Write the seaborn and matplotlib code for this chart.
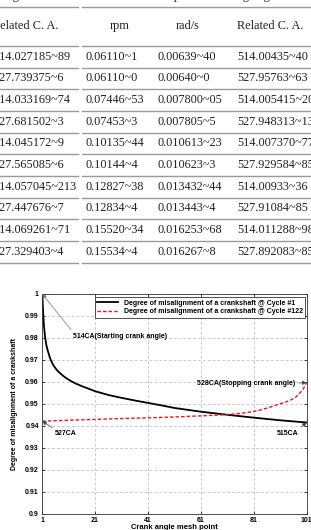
import numpy as np
import pandas as pd
import matplotlib
matplotlib.use("Agg")
import matplotlib.pyplot as plt
from matplotlib.lines import Line2D
import seaborn as sns

# ---- table data (top half) ----
col_heads = ["Related C. A.", "rpm", "rad/s", "Related C. A."]
related_ca_1 = ["514.027185~89", "527.739375~6", "514.033169~74", "527.681502~3",
                "514.045172~9", "527.565085~6", "514.057045~213", "527.447676~7",
                "514.069261~71", "527.329403~4"]
speed_rpm = ["0.06110~1", "0.06110~0", "0.07446~53", "0.07453~3", "0.10135~44",
             "0.10144~4", "0.12827~38", "0.12834~4", "0.15520~34", "0.15534~4"]
speed_rads = ["0.00639~40", "0.00640~0", "0.007800~05", "0.007805~5", "0.010613~23",
              "0.010623~3", "0.013432~44", "0.013443~4", "0.016253~68", "0.016267~8"]
related_ca_2 = ["514.00435~40", "527.95763~63", "514.005415~20", "527.948313~13",
                "514.007370~77", "527.929584~85", "514.00933~36", "527.91084~85",
                "514.011288~98", "527.892083~85"]

# ---- chart data (bottom half) ----
mesh_c1 = [1, 1.3, 1.6, 2, 2.5, 3, 4, 5, 6, 7, 8, 9, 10, 12, 14, 16, 18, 21, 26, 31,
           36, 41, 46, 51, 61, 71, 81, 91, 101]
mis_c1 = [1.000, 0.992, 0.986, 0.981, 0.977, 0.9745, 0.9706, 0.9680, 0.9662, 0.9648,
          0.9637, 0.9627, 0.9618, 0.9603, 0.9591, 0.9581, 0.9572, 0.9558, 0.9541,
          0.9528, 0.9516, 0.9505, 0.9494, 0.9482, 0.9465, 0.9451, 0.9438, 0.9426, 0.9416]
mesh_c122 = [1, 11, 21, 31, 41, 51, 61, 71, 76, 81, 84, 87, 90, 93, 95, 97, 99, 100, 101]
mis_c122 = [0.9422, 0.9426, 0.9430, 0.9434, 0.9437, 0.9441, 0.9446, 0.9452, 0.9457,
            0.9466, 0.9474, 0.9485, 0.9497, 0.9508, 0.9518, 0.9532, 0.9556, 0.9573, 0.9597]

W, H = 311, 530


def fx(px):
    return px / W


def fy(py):
    return 1 - py / H


fig = plt.figure(figsize=(W / 100, H / 100), dpi=100)

# ---- table ----
serif = "Liberation Serif"
tcol = "#222222"
fs = 8.8
# header fragments above the crop (only descenders visible)
fig.text(fx(28), fy(-1.5), "Crank angle", family=serif, size=fs, color=tcol, ha="right", va="baseline")
fig.text(fx(167), fy(-1.5), "Speed at starting angle", family=serif, size=fs, color=tcol, ha="left", va="baseline")

line_ys = [6.7, 46] + [46 + 21.67 * (i + 1) for i in range(10)]
for ly in line_ys:
    for x0, x1 in [(0, 78), (82, W)]:
        fig.add_artist(Line2D([fx(x0), fx(x1)], [fy(ly), fy(ly)], color="#9a9a9a", lw=1.0))

fig.text(fx(-8), fy(26), col_heads[0], family=serif, size=fs, color=tcol, ha="left", va="center")
fig.text(fx(120), fy(26), col_heads[1], family=serif, size=fs, color=tcol, ha="center", va="center")
fig.text(fx(188), fy(26), col_heads[2], family=serif, size=fs, color=tcol, ha="center", va="center")
fig.text(fx(237), fy(26), col_heads[3], family=serif, size=fs, color=tcol, ha="left", va="center")

col_left = [-6.5, 85, 157.5, 237]
for i in range(10):
    ry = 56.8 + 21.67 * i
    for xl, col in zip(col_left, [related_ca_1, speed_rpm, speed_rads, related_ca_2]):
        fig.text(fx(xl), fy(ry), col[i], family=serif, size=fs, color=tcol, ha="left", va="center")

# ---- chart ----
bold = dict(family="Liberation Sans", weight="bold")
ax = fig.add_axes([fx(42.3), fy(514), fx(306.5) - fx(42.3), fy(294) - fy(514)])

df1 = pd.DataFrame({"mesh": mesh_c1, "mis": mis_c1})
df2 = pd.DataFrame({"mesh": mesh_c122, "mis": mis_c122})
sns.lineplot(data=df1, x="mesh", y="mis", ax=ax, color="black", lw=1.3,
             label="Degree of misalignment of a crankshaft @ Cycle #1")
sns.lineplot(data=df2, x="mesh", y="mis", ax=ax, color="#e8161c", lw=1.0, linestyle=(0, (2.5, 1.5)),
             label="Degree of misalignment of a crankshaft @ Cycle #122")

ax.set_xlim(1, 101)
ax.set_ylim(0.9, 1.0)
xt = [1, 21, 41, 61, 81, 101]
yt = [0.9, 0.91, 0.92, 0.93, 0.94, 0.95, 0.96, 0.97, 0.98, 0.99, 1.0]
ax.set_xticks(xt)
ax.set_xticklabels([str(v) for v in xt], **bold, size=5)
ax.set_yticks(yt)
ax.set_yticklabels(["0.9", "0.91", "0.92", "0.93", "0.94", "0.95", "0.96", "0.97", "0.98", "0.99", "1"], **bold, size=5)
ax.tick_params(direction="in", length=2.5, width=0.5, pad=2.5, top=True, right=True)
ax.grid(True, color="#b5b5b5", lw=0.5, linestyle=(0, (4, 3)))
for s in ax.spines.values():
    s.set_linewidth(0.6)
    s.set_color("#333333")

ax.set_ylabel("Degree of misalignment of a crankshaft", **bold, size=5)
ax.yaxis.set_label_coords(-0.092, 0.5)
ax.set_xlabel("Crank angle mesh point", **bold, size=5.5)
ax.xaxis.set_label_coords(0.5, -0.045)

leg = ax.legend(loc="upper right", bbox_to_anchor=(0.995, 0.985), borderaxespad=0,
                prop=dict(family="Liberation Sans", weight="bold", size=5),
                handlelength=3, fancybox=False, framealpha=1, edgecolor="#333333",
                borderpad=0.35, labelspacing=0.25, handletextpad=0.8)
leg.get_frame().set_linewidth(0.6)

arr = dict(arrowstyle="-|>", color="#444444", lw=0.5, mutation_scale=6, shrinkA=0, shrinkB=0)
ax.annotate("514CA(Starting crank angle)", xy=(1, 1.0), xytext=(12.7, 0.9809),
            ha="left", va="center", **bold, size=5,
            arrowprops=dict(arr, relpos=(0, 1), color="#777777"))
ax.annotate("528CA(Stopping crank angle)", xy=(101, 0.9597), xytext=(96.9, 0.9595),
            ha="right", va="center", **bold, size=5,
            arrowprops=dict(arr, relpos=(1, 0.5)))
ax.annotate("527CA", xy=(1, 0.9422), xytext=(5.8, 0.9368),
            ha="left", va="center", **bold, size=5,
            arrowprops=dict(arr, relpos=(0, 1)))
ax.annotate("515CA", xy=(101, 0.9416), xytext=(98.0, 0.9368),
            ha="right", va="center", **bold, size=5,
            arrowprops=dict(arr, relpos=(1, 1)))

fig.savefig("out.png", dpi=100)
